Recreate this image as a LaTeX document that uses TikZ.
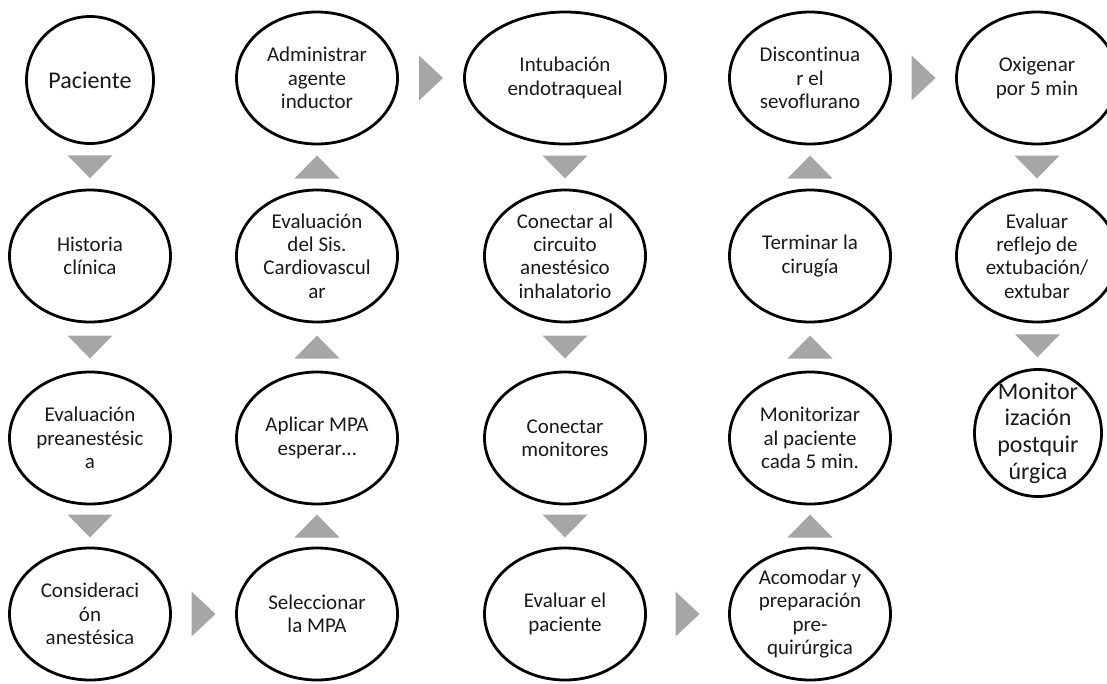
\documentclass[tikz,border=0pt]{standalone}
\usepackage{fontspec}
\setmainfont{Carlito}[RawFeature=-liga]
\usetikzlibrary{shapes.geometric}

\definecolor{arrowgray}{HTML}{A6A6A6}
\definecolor{inktext}{HTML}{1A1A1A}

\begin{document}
\begin{tikzpicture}[x=1pt,y=-1pt,
  stepbox/.style={ellipse, draw=black, line width=2.8pt, fill=white,
    minimum width=161pt, minimum height=132pt, inner sep=-14pt,
    align=center, text=inktext, font=\fontsize{21}{23.4}\selectfont},
  widebox/.style={stepbox, minimum width=201pt},
  roundbox/.style={stepbox, minimum width=127pt, minimum height=127pt},
  bigtext/.style={font=\fontsize{24}{26.7}\selectfont},
  tridown/.pic={\fill[arrowgray] (-22.5,-11.5) -- (22.5,-11.5) -- (0,11.5) -- cycle;},
  triup/.pic={\fill[arrowgray] (-22.5,11.5) -- (22.5,11.5) -- (0,-11.5) -- cycle;},
  triright/.pic={\fill[arrowgray] (-12,-22.5) -- (12,0) -- (-12,22.5) -- cycle;}
]
\useasboundingbox (0,0) rectangle (1107,683);
\clip (0,0) rectangle (1107,683);

% column 1
\node[roundbox, bigtext] (p1) at (90,80)  {Paciente};
\node[stepbox] (p2) at (90,256) {Historia\\clínica};
\node[stepbox] (p3) at (90,438) {Evaluación\\preanestésic\\a};
\node[stepbox] (p4) at (90,614) {Consideraci\\ón\\anestésica};

% column 2
\node[stepbox] (q4) at (317,614) {Seleccionar\\la MPA};
\node[stepbox] (q3) at (317,438) {Aplicar MPA\\esperar…};
\node[stepbox] (q2) at (317,256) {Evaluación\\del Sis.\\Cardiovascul\\ar};
\node[stepbox] (q1) at (317,78)  {Administrar\\agente\\inductor};

% column 3
\node[widebox] (r1) at (565,78)  {Intubación\\endotraqueal};
\node[stepbox] (r2) at (565,256) {Conectar al\\circuito\\anestésico\\inhalatorio};
\node[stepbox] (r3) at (565,438) {Conectar\\monitores};
\node[stepbox] (r4) at (565,614) {Evaluar el\\paciente};

% column 4
\node[stepbox] (s4) at (810,614) {Acomodar y\\preparación\\pre-\\quirúrgica};
\node[stepbox] (s3) at (810,438) {Monitorizar\\al paciente\\cada 5 min.};
\node[stepbox] (s2) at (810,256) {Terminar la\\cirugía};
\node[stepbox] (s1) at (810,78)  {Discontinua\\r el\\sevoflurano};

% column 5
\node[stepbox] (t1) at (1037,78)  {Oxigenar\\por 5 min};
\node[stepbox] (t2) at (1037,256) {Evaluar\\reflejo de\\extubación/\\extubar};
\node[roundbox, bigtext] (t3) at (1038,433) {Monitor\\ización\\postquir\\úrgica};

% flow markers between consecutive steps
\path (p1) -- coordinate[midway] (a1) (p2);
\path (p2) -- coordinate[midway] (a2) (p3);
\path (p3) -- coordinate[midway] (a3) (p4);
\path (p4) -- coordinate[midway] (a4) (q4);
\path (q4) -- coordinate[midway] (a5) (q3);
\path (q3) -- coordinate[midway] (a6) (q2);
\path (q2) -- coordinate[midway] (a7) (q1);
\path (q1) -- coordinate[midway] (a8) (r1);
\path (r1) -- coordinate[midway] (a9) (r2);
\path (r2) -- coordinate[midway] (a10) (r3);
\path (r3) -- coordinate[midway] (a11) (r4);
\path (r4) -- coordinate[midway] (a12) (s4);
\path (s4) -- coordinate[midway] (a13) (s3);
\path (s3) -- coordinate[midway] (a14) (s2);
\path (s2) -- coordinate[midway] (a15) (s1);
\path (s1) -- coordinate[midway] (a16) (t1);
\path (t1) -- coordinate[midway] (a17) (t2);
\path (t2) -- coordinate[midway] (a18) (t3);

\pic at (a1) {tridown};
\pic at (a2) {tridown};
\pic at (a3) {tridown};
\pic at (a4) {triright};
\pic at (a5) {triup};
\pic at (a6) {triup};
\pic at (a7) {triup};
\pic at (a8) {triright};
\pic at (a9) {tridown};
\pic at (a10) {tridown};
\pic at (a11) {tridown};
\pic at (a12) {triright};
\pic at (a13) {triup};
\pic at (a14) {triup};
\pic at (a15) {triup};
\pic at (a16) {triright};
\pic at (a17) {tridown};
\pic at (a18) {tridown};
\end{tikzpicture}
\end{document}
